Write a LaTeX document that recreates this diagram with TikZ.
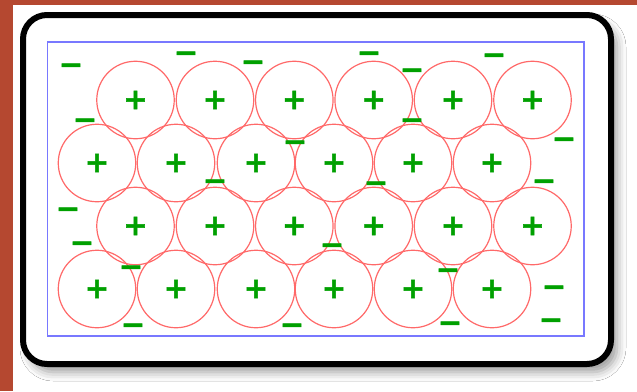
\documentclass[tikz,border=0pt]{standalone}
\usepackage{fontspec}
\newfontfamily\signfont{DejaVu Sans}[BoldFeatures={FakeBold=1.6}]
\usetikzlibrary{shadows.blur}
\definecolor{bgred}{RGB}{181,72,48}
\definecolor{cellred}{RGB}{255,105,105}
\definecolor{boxblue}{RGB}{120,120,255}
\definecolor{signgreen}{RGB}{0,160,0}
\tikzset{
  cell/.style={circle, draw=cellred, line width=1.2pt, minimum size=77.5pt, inner sep=0pt,
    text=signgreen, font=\signfont\bfseries\fontsize{29}{29}\selectfont},
  neg/.style={text=signgreen, inner sep=0pt, yshift=-4pt,
    font=\signfont\bfseries\fontsize{29}{29}\selectfont},
}
\begin{document}
\begin{tikzpicture}[x=1pt,y=-1pt]
\useasboundingbox (0,0) rectangle (637,391);
\fill[bgred] (0,0) rectangle (637,391);
\fill[white] (13,5) rectangle (637,391);
\draw[line width=6pt, fill=white, rounded corners=24pt,
  blur shadow={shadow xshift=6pt, shadow yshift=-8pt, shadow blur radius=9pt, shadow opacity=40}]
  (23,15) rectangle (611,364);
\draw[boxblue, line width=1.5pt] (47.5,42) rectangle (584,336);
% row 1
\node[cell] (a1) at (135.5,100) {+};
\node[cell] (a2) at (215,100) {+};
\node[cell] (a3) at (294.3,100) {+};
\node[cell] (a4) at (373.7,100) {+};
\node[cell] (a5) at (453,100) {+};
\node[cell] (a6) at (532.5,100) {+};
% row 2
\node[cell] (b1) at (97,163) {+};
\node[cell] (b2) at (176,163) {+};
\node[cell] (b3) at (256,163) {+};
\node[cell] (b4) at (334,163) {+};
\node[cell] (b5) at (413,163) {+};
\node[cell] (b6) at (492,163) {+};
% row 3
\node[cell] (c1) at (135.5,226) {+};
\node[cell] (c2) at (215,226) {+};
\node[cell] (c3) at (294.3,226) {+};
\node[cell] (c4) at (373.7,226) {+};
\node[cell] (c5) at (453,226) {+};
\node[cell] (c6) at (532.5,226) {+};
% row 4
\node[cell] (d1) at (97,289) {+};
\node[cell] (d2) at (176,289) {+};
\node[cell] (d3) at (256,289) {+};
\node[cell] (d4) at (334,289) {+};
\node[cell] (d5) at (413,289) {+};
\node[cell] (d6) at (492,289) {+};
% negative charges
\node[neg] (m1) at (71,65) {−};
\node[neg] (m2) at (186,53) {−};
\node[neg] (m3) at (253,62) {−};
\node[neg] (m4) at (369,53) {−};
\node[neg] (m5) at (412,70) {−};
\node[neg] (m6) at (494,55) {−};
\node[neg] (m7) at (85,120) {−};
\node[neg] (m8) at (412,120) {−};
\node[neg] (m9) at (564,139) {−};
\node[neg] (m10) at (295,142) {−};
\node[neg] (m11) at (215,181) {−};
\node[neg] (m12) at (376,183) {−};
\node[neg] (m13) at (544,181) {−};
\node[neg] (m14) at (68,209) {−};
\node[neg] (m15) at (82,243) {−};
\node[neg] (m16) at (332,245) {−};
\node[neg] (m17) at (131,267) {−};
\node[neg] (m18) at (448,270) {−};
\node[neg] (m19) at (554,287) {−};
\node[neg] (m20) at (133,325) {−};
\node[neg] (m21) at (292,325) {−};
\node[neg] (m22) at (450,323) {−};
\node[neg] (m23) at (551,320) {−};
\end{tikzpicture}
\end{document}
